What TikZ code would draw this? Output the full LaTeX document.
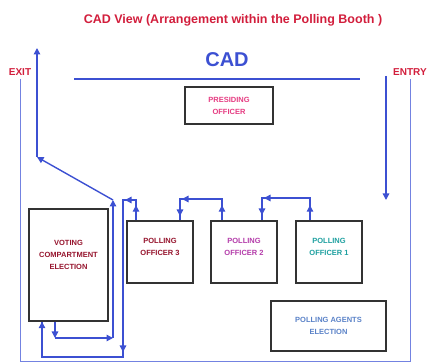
\documentclass[tikz,border=0pt]{standalone}
\usepackage{fontspec}
\setmainfont{Liberation Sans}
\usetikzlibrary{arrows.meta,calc}
\definecolor{titlered}{RGB}{210,30,60}
\definecolor{cadblue}{RGB}{60,80,210}
\definecolor{wallblue}{RGB}{115,130,225}
\definecolor{pinkoff}{RGB}{230,60,130}
\definecolor{darkred}{RGB}{150,20,45}
\definecolor{purpleoff}{RGB}{180,60,170}
\definecolor{tealoff}{RGB}{30,160,160}
\definecolor{agentblue}{RGB}{90,130,200}
\tikzset{
  booth/.style={rectangle, draw=black!80, line width=1.5pt, fill=white, align=center,
                font=\fontsize{7.5}{12}\selectfont\bfseries},
  flow/.style={draw=cadblue, line width=1.4pt},
  fl/.style={flow, -{Triangle[length=6.5pt,width=6.5pt]}},
  wall/.style={draw=wallblue, line width=0.8pt},
  side/.style={font=\fontsize{10}{12}\selectfont\bfseries, text=titlered},
}

\begin{document}
\begin{tikzpicture}[x=1pt,y=-1pt]
\useasboundingbox (0,0) rectangle (432,363);

% headings
\node[font=\fontsize{12.5}{14}\selectfont\bfseries, text=titlered] (title) at (233,20)
  {CAD View (Arrangement within the Polling Booth )};
\node[font=\fontsize{20}{22}\selectfont\bfseries, text=cadblue] (cad) at (227,60) {CAD};
\draw[flow] (74,79) -- (360,79);
\node[side] (exit) at (20,72) {EXIT};
\node[side] (entry) at (410,72) {ENTRY};

% booth outline
\coordinate (floor) at (0,361);
\draw[wall] (exit.south) -- (exit.south |- floor) -- (entry.south |- floor) -- (entry.south);

% desks
\node[booth, minimum width=88, minimum height=37, text=pinkoff] (pres) at (229,105.5) {PRESIDING\\OFFICER};
\foreach \n/\x/\c/\k in {po3/160/darkred/3, po2/244/purpleoff/2, po1/329/tealoff/1}
  \node[booth, minimum width=66, minimum height=62, text=\c, text depth=10pt] (\n) at (\x,252) {POLLING\\OFFICER \k};
\node[booth, minimum width=79, minimum height=112, text=darkred, text depth=20pt] (vote) at (68.5,265)
  {VOTING\\COMPARTMENT\\ELECTION};
\node[booth, minimum width=115, minimum height=50, text=agentblue] (agents) at (328.5,326)
  {POLLING AGENTS\\ELECTION};

% way in
\coordinate (in) at (386,76);
\coordinate (q) at (386,200);
\draw[fl] (in) -- (q);

% officer 1 -> officer 2
\coordinate (t1) at (310,198);
\coordinate (t2) at (262,198);
\draw[flow] (po1.north -| t1) -- (t1) -- (t2) -- (po2.north -| t2);
\draw[fl] (po1.north -| t1) -- ++(0,-15);
\draw[fl] (t1) -- ($(t2)+(2,0)$);
\draw[fl] (t2) -- ++(0,17);

% officer 2 -> officer 3
\coordinate (t3) at (222,199);
\coordinate (t4) at (180,199);
\draw[flow] (po2.north -| t3) -- (t3) -- (t4) -- (po3.north -| t4);
\draw[fl] (po2.north -| t3) -- ++(0,-15);
\draw[fl] (t3) -- ($(t4)+(2,0)$);
\draw[fl] (t4) -- ++(0,17);

% officer 3 -> voting compartment
\coordinate (t5) at (136,200);
\coordinate (t6) at (123,200);
\coordinate (t7) at (123,357);
\coordinate (t8) at (42,357);
\draw[flow] (po3.north -| t5) -- (t5) -- (t6) -- (t7) -- (t8) -- (vote.south -| t8);
\draw[fl] (po3.north -| t5) -- ++(0,-15);
\draw[fl] (t5) -- ($(t6)+(2,0)$);
\draw[fl] (t6) -- ($(t7)+(0,-5)$);
\draw[fl] (t8) -- (vote.south -| t8);

% voting compartment -> exit
\coordinate (s1) at (55,338);
\coordinate (s2) at (113,338);
\coordinate (s3) at (113,200);
\coordinate (s4) at (37,157);
\coordinate (s5) at (37,48);
\draw[fl] (vote.south -| s1) -- (s1);
\draw[fl] (s1) -- (s2);
\draw[fl] (s2) -- (s3);
\draw[fl] (s3) -- (s4);
\draw[fl] (s4) -- (s5);
\end{tikzpicture}
\end{document}
